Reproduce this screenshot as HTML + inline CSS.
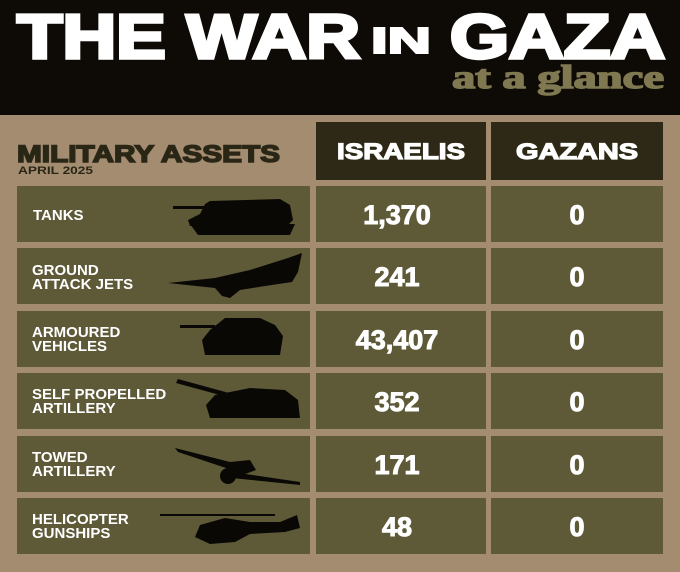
<!DOCTYPE html>
<html><head><meta charset="utf-8"><style>
html,body{margin:0;padding:0;background:#a48c70;}
svg{display:block}
</style></head><body>
<svg width="680" height="572" viewBox="0 0 680 572" xmlns="http://www.w3.org/2000/svg" font-family="Liberation Sans, sans-serif" font-weight="bold">
<rect width="680" height="572" fill="#a48c70"/>
<rect width="680" height="115" fill="#0e0a06"/>
<text x="17" y="58" font-size="62" fill="#fff" textLength="343" lengthAdjust="spacingAndGlyphs" stroke="#fff" stroke-width="3.5">THE WAR</text>
<text x="371" y="53" font-size="36" fill="#fff" textLength="60" lengthAdjust="spacingAndGlyphs" stroke="#fff" stroke-width="2">IN</text>
<text x="450" y="58" font-size="62" fill="#fff" textLength="215" lengthAdjust="spacingAndGlyphs" stroke="#fff" stroke-width="3.5">GAZA</text>
<text x="452" y="88" font-size="33" font-family="Liberation Serif, serif" fill="#7f7850" textLength="212" lengthAdjust="spacingAndGlyphs" stroke="#7f7850" stroke-width="1.5">at a glance</text>

<text x="17" y="162" font-size="24" fill="#2a2616" textLength="263" lengthAdjust="spacingAndGlyphs" stroke="#2a2616" stroke-width="1.5">MILITARY ASSETS</text>
<text x="18" y="174" font-size="11" fill="#2a2616" textLength="75" lengthAdjust="spacingAndGlyphs">APRIL  2025</text>

<rect x="316" y="122" width="170" height="58" fill="#2d2916"/>
<rect x="491" y="122" width="172" height="58" fill="#2d2916"/>
<text x="401" y="159" font-size="22" fill="#fff" text-anchor="middle" textLength="128" lengthAdjust="spacingAndGlyphs" stroke="#fff" stroke-width="1.2">ISRAELIS</text>
<text x="577" y="159" font-size="22" fill="#fff" text-anchor="middle" textLength="122" lengthAdjust="spacingAndGlyphs" stroke="#fff" stroke-width="1.2">GAZANS</text>

<g fill="#5e5a38">
<rect x="17" y="186" width="293" height="56"/><rect x="316" y="186" width="170" height="56"/><rect x="491" y="186" width="172" height="56"/>
<rect x="17" y="248" width="293" height="56"/><rect x="316" y="248" width="170" height="56"/><rect x="491" y="248" width="172" height="56"/>
<rect x="17" y="311" width="293" height="56"/><rect x="316" y="311" width="170" height="56"/><rect x="491" y="311" width="172" height="56"/>
<rect x="17" y="373" width="293" height="56"/><rect x="316" y="373" width="170" height="56"/><rect x="491" y="373" width="172" height="56"/>
<rect x="17" y="436" width="293" height="56"/><rect x="316" y="436" width="170" height="56"/><rect x="491" y="436" width="172" height="56"/>
<rect x="17" y="498" width="293" height="56"/><rect x="316" y="498" width="170" height="56"/><rect x="491" y="498" width="172" height="56"/>
</g>

<g fill="#fff" font-size="15">
<text x="33" y="220">TANKS</text>
<text x="32" y="275">GROUND</text><text x="32" y="289">ATTACK JETS</text>
<text x="32" y="337">ARMOURED</text><text x="32" y="351">VEHICLES</text>
<text x="32" y="399">SELF PROPELLED</text><text x="32" y="413">ARTILLERY</text>
<text x="32" y="462">TOWED</text><text x="32" y="476">ARTILLERY</text>
<text x="32" y="524">HELICOPTER</text><text x="32" y="538">GUNSHIPS</text>
</g>

<g fill="#fff" font-size="27" text-anchor="middle" stroke="#fff" stroke-width="1">
<text x="397" y="224">1,370</text><text x="577" y="224">0</text>
<text x="397" y="286">241</text><text x="577" y="286">0</text>
<text x="397" y="349">43,407</text><text x="577" y="349">0</text>
<text x="397" y="411">352</text><text x="577" y="411">0</text>
<text x="397" y="474">171</text><text x="577" y="474">0</text>
<text x="397" y="536">48</text><text x="577" y="536">0</text>
</g>

<g fill="#0a0805">
<rect x="173" y="206" width="60" height="3"/>
<path d="M210 201 L280 199 L290 205 L293 220 L287 226 L190 226 L188 220 L200 214 L205 204 Z"/>
<path d="M190 224 L295 224 L290 235 L198 235 Z"/>
<path d="M168 283 L215 278 L250 270 L288 258 L302 253 L298 272 L292 282 L265 286 L240 290 L230 298 L222 296 L215 288 Z"/>
<path d="M210 330 L225 318 L260 318 L275 325 L283 336 L280 355 L205 355 L202 340 Z"/>
<rect x="180" y="325" width="35" height="3"/>
<path d="M178 379 L240 396 L238 400 L176 383 Z"/>
<path d="M215 395 L250 388 L285 390 L298 400 L300 418 L210 418 L206 405 Z"/>
<path d="M175 448 L230 462 L250 460 L256 470 L240 476 L232 470 L178 452 Z"/>
<circle cx="228" cy="476" r="8"/>
<path d="M232 472 L300 482 L300 485 L232 478 Z"/>
<rect x="160" y="514" width="115" height="2"/>
<path d="M200 525 L225 518 L250 522 L280 522 L297 515 L300 528 L285 532 L250 534 L235 542 L210 544 L195 537 Z"/>
</g>
</svg>
</body></html>
